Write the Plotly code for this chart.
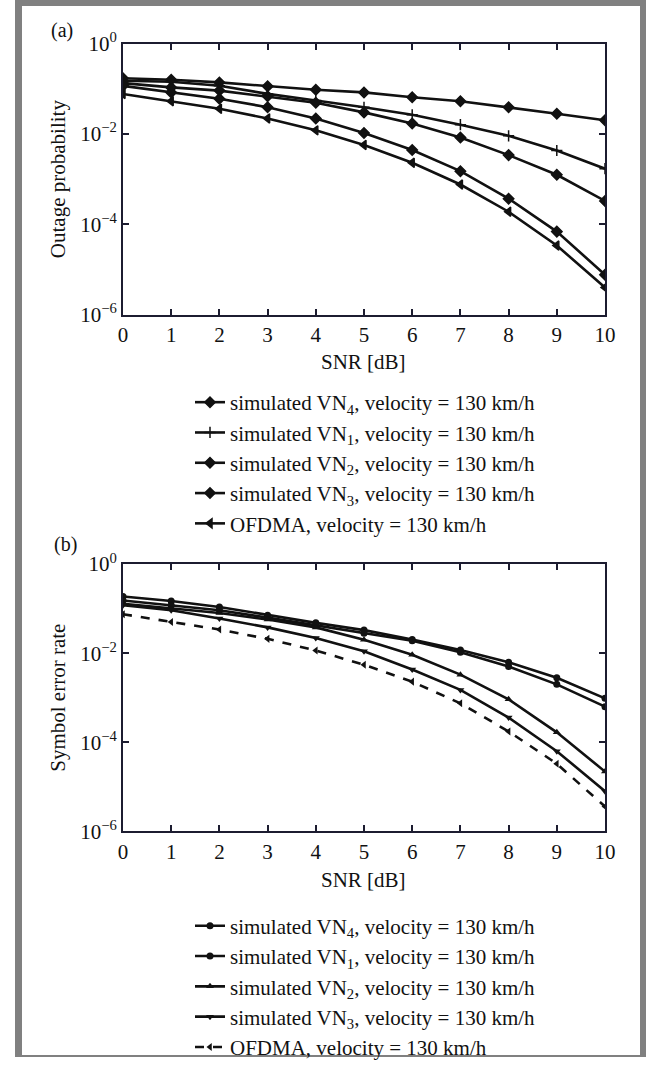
import plotly.graph_objects as go

snr = [0, 1, 2, 3, 4, 5, 6, 7, 8, 9, 10]

# (a) Outage probability
out_vn4 = [0.171, 0.158, 0.138, 0.113, 0.095, 0.083, 0.065, 0.053, 0.039, 0.028, 0.020]
out_vn1 = [0.150, 0.143, 0.116, 0.077, 0.055, 0.039, 0.0266, 0.016, 0.0091, 0.0043, 0.0017]
out_vn2 = [0.133, 0.107, 0.091, 0.068, 0.049, 0.030, 0.017, 0.0083, 0.0034, 0.00125, 3.3e-4]
out_vn3 = [0.116, 0.083, 0.060, 0.039, 0.022, 0.0105, 0.0044, 0.0015, 3.7e-4, 6.9e-5, 7.7e-6]
out_ofdma = [0.0766, 0.053, 0.036, 0.022, 0.012, 0.0057, 0.0023, 7.6e-4, 1.9e-4, 3.4e-5, 4.0e-6]

# (b) Symbol error rate
ser_vn4 = [0.188, 0.148, 0.109, 0.071, 0.048, 0.033, 0.0204, 0.0118, 0.0063, 0.0028, 9.7e-4]
ser_vn1 = [0.153, 0.119, 0.092, 0.063, 0.042, 0.028, 0.019, 0.0105, 0.005, 0.0020, 6.3e-4]
ser_vn2 = [0.129, 0.100, 0.080, 0.057, 0.038, 0.020, 0.0092, 0.0033, 9.2e-4, 1.67e-4, 2.2e-5]
ser_vn3 = [0.119, 0.092, 0.060, 0.038, 0.022, 0.011, 0.0043, 0.0015, 3.6e-4, 6.3e-5, 8e-6]
ser_ofdma = [0.075, 0.050, 0.034, 0.021, 0.0115, 0.0055, 0.0023, 7.5e-4, 1.75e-4, 3.3e-5, 3.6e-6]

names = [
    "simulated VN<sub>4</sub>, velocity = 130 km/h",
    "simulated VN<sub>1</sub>, velocity = 130 km/h",
    "simulated VN<sub>2</sub>, velocity = 130 km/h",
    "simulated VN<sub>3</sub>, velocity = 130 km/h",
    "OFDMA, velocity = 130 km/h",
]
ytick_vals = [1, 1e-2, 1e-4, 1e-6]
ytick_text = ["10<sup>0</sup>", "10<sup>\u22122</sup>", "10<sup>\u22124</sup>", "10<sup>\u22126</sup>"]
x_title = "SNR [dB]"
y_titles = ["Outage probability", "Symbol error rate"]
panel_labels = ["(a)", "(b)"]

W, H = 646, 1068
FONT = "Liberation Serif"
INK = "#111111"
AX = "#1c1c30"

fig = go.Figure()

syms_a = ["diamond", "cross-thin", "diamond", "diamond", "triangle-left"]
for ys, nm, sym in zip([out_vn4, out_vn1, out_vn2, out_vn3, out_ofdma], names, syms_a):
    fig.add_trace(go.Scatter(
        x=snr, y=ys, name=nm, mode="lines+markers", xaxis="x", yaxis="y",
        line=dict(color=INK, width=2.6),
        marker=dict(symbol=sym, size=8, color=INK, line=dict(color=INK, width=1.5)),
        legend="legend",
    ))

syms_b = ["circle", "circle", "triangle-up", "triangle-down", "triangle-left"]
dashes = ["solid", "solid", "solid", "solid", "dash"]
for ys, nm, sym, ds in zip([ser_vn4, ser_vn1, ser_vn2, ser_vn3, ser_ofdma], names, syms_b, dashes):
    fig.add_trace(go.Scatter(
        x=snr, y=ys, name=nm, mode="lines+markers", xaxis="x2", yaxis="y2",
        line=dict(color=INK, width=2.6, dash=ds),
        marker=dict(symbol=sym, size=7, color=INK),
        legend="legend2",
    ))

xdom = [123 / W, 605 / W]
ya_dom = [1 - 318 / H, 1 - 44 / H]
yb_dom = [1 - 840 / H, 1 - 570 / H]

xaxis_common = dict(
    range=[0, 10], tickvals=snr, ticks="inside", ticklen=6, tickwidth=1.5,
    tickcolor=AX, showline=True, linecolor=AX, linewidth=2, mirror="ticks",
    showgrid=False, zeroline=False, domain=xdom, automargin=False,
    tickfont=dict(family=FONT, size=21, color=INK),
)
yaxis_common = dict(
    type="log", range=[-6, 0], tickvals=ytick_vals, ticktext=ytick_text,
    ticks="inside", ticklen=6, tickwidth=1.5, tickcolor=AX,
    showline=True, linecolor=AX, linewidth=2, mirror="ticks",
    showgrid=False, zeroline=False, automargin=False,
    tickfont=dict(family=FONT, size=21, color=INK),
)

leg_common = dict(xanchor="left", yanchor="top", bgcolor="rgba(0,0,0,0)",
                  font=dict(family=FONT, size=21, color=INK),
                  itemwidth=30, tracegroupgap=0)


def ann(text, x, y, size, angle=0):
    return dict(text=text, x=x / W, y=1 - y / H, xref="paper", yref="paper",
                xanchor="center", yanchor="middle", textangle=angle,
                showarrow=False, font=dict(family=FONT, size=size, color=INK))


fig.update_layout(
    width=W, height=H,
    margin=dict(l=0, r=0, t=0, b=0),
    paper_bgcolor="white", plot_bgcolor="white",
    font=dict(family=FONT, size=21, color=INK),
    xaxis=dict(**xaxis_common, anchor="y"),
    xaxis2=dict(**xaxis_common, anchor="y2"),
    yaxis=dict(**yaxis_common, domain=ya_dom, anchor="x"),
    yaxis2=dict(**yaxis_common, domain=yb_dom, anchor="x2"),
    legend=dict(x=190 / W, y=1 - 386 / H, **leg_common),
    legend2=dict(x=190 / W, y=1 - 915 / H, **leg_common),
    annotations=[
        ann(panel_labels[0], 62, 31, 20),
        ann(panel_labels[1], 65, 550, 20),
        ann(x_title, 364, 366, 21),
        ann(x_title, 364, 889, 21),
        ann(y_titles[0], 58, 181, 21, -90),
        ann(y_titles[1], 58, 705, 21, -90),
    ],
    shapes=[
        dict(type="rect", xref="paper", yref="paper", x0=15 / W, x1=1, y0=1 - 6 / H, y1=1,
             fillcolor="#808080", line=dict(width=0), layer="above"),
        dict(type="rect", xref="paper", yref="paper", x0=15 / W, x1=22 / W, y0=0, y1=1,
             fillcolor="#808080", line=dict(width=0), layer="above"),
        dict(type="rect", xref="paper", yref="paper", x0=640 / W, x1=1, y0=0, y1=1,
             fillcolor="#808080", line=dict(width=0), layer="above"),
        dict(type="rect", xref="paper", yref="paper", x0=15 / W, x1=1, y0=0, y1=2 / H,
             fillcolor="#808080", line=dict(width=0), layer="above"),
    ],
)

fig.write_html(
    "out.html",
    config={"displayModeBar": False},
    post_script="document.body.style.margin='0';document.body.style.padding='0';"
                "document.documentElement.style.overflow='hidden';",
)
